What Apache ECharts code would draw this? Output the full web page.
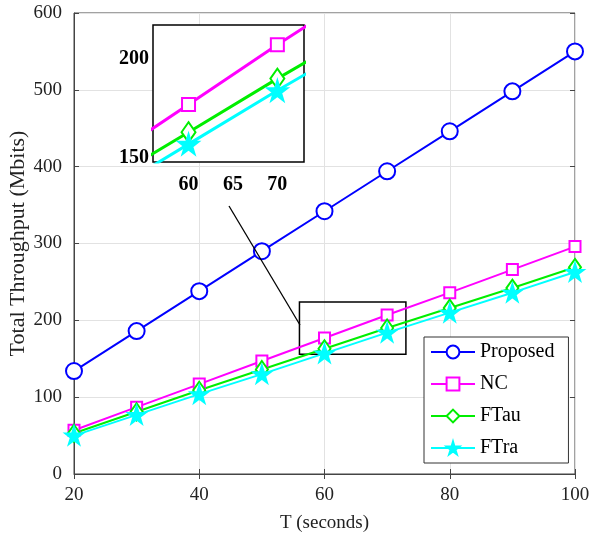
<!DOCTYPE html>
<html><head><meta charset="utf-8">
<script src="https://cdn.jsdelivr.net/npm/echarts@6/dist/echarts.min.js"></script>
<style>html,body{margin:0;padding:0;background:#fff}#c{width:593px;height:549px}</style>
</head><body><div id="c"></div>
<script>
const T = [20, 30, 40, 50, 60, 70, 80, 90, 100];
const proposed = [134, 186, 238, 290, 342, 394, 446, 498, 550];
const nc = [57, 87, 117, 147, 177, 207, 236, 266, 296];
const ftau = [53, 81, 109, 136, 163, 190, 216, 242, 269];
const ftra = [50, 77, 104, 130, 157, 184, 210, 236, 263];
const xTicks = [20, 40, 60, 80, 100];
const yTicks = [0, 100, 200, 300, 400, 500, 600];
const insetXTicks = [60, 65, 70];
const insetYTicks = [150, 200];
const zoomBox = {x0: 56, x1: 73, y0: 156, y1: 224};
const insetRange = {x0: 56, x1: 73, y0: 148, y1: 217};

const font = 'Liberation Serif';
const axisCol = '#444';
const pair = arr => T.map((t, i) => [t, arr[i]]);
const starPath = 'path://M50,0 L61,35 L98,35 L68,57 L79,91 L50,70 L21,91 L32,57 L2,35 L39,35 Z';
const defs = [
  {name: 'Proposed', data: proposed, color: '#0000ff', symbol: 'emptyCircle', size: 16, isize: 16},
  {name: 'NC', data: nc, color: '#ff00ff', symbol: 'emptyRect', size: 11, isize: 13},
  {name: 'FTau', data: ftau, color: '#00ee00', symbol: 'emptyDiamond', size: [12, 17], isize: [14, 20]},
  {name: 'FTra', data: ftra, color: '#00ffff', symbol: starPath, size: 17, isize: 20}
];
function mkSeries(d, xi, yi, inset) {
  return {
    name: d.name, type: 'line', xAxisIndex: xi, yAxisIndex: yi, data: pair(d.data),
    symbol: d.symbol, symbolSize: inset ? d.isize : d.size, showAllSymbol: true,
    lineStyle: {color: d.color, width: inset ? 3 : 2},
    itemStyle: {color: d.color, borderColor: d.color, borderWidth: 2},
    color: d.color, clip: true, animation: false, z: inset ? 10 : 3
  };
}
const series = [];
defs.forEach(d => series.push(mkSeries(d, 0, 0, false)));
defs.forEach(d => series.push(mkSeries(d, 2, 2, true)));
series[0].markArea = {
  silent: true,
  itemStyle: {color: 'rgba(0,0,0,0)', borderColor: '#000', borderWidth: 1.5},
  data: [[{coord: [zoomBox.x0, zoomBox.y0]}, {coord: [zoomBox.x1, zoomBox.y1]}]]
};

const chart = echarts.init(document.getElementById('c'));
chart.setOption({
  animation: false,
  textStyle: {fontFamily: font},
  grid: [
    {left: 74, top: 13, right: 18, bottom: 75, show: true, borderColor: axisCol, borderWidth: 1, containLabel: false, outerBoundsMode: 'none'},
    {left: 74, top: 13, right: 18, bottom: 75, show: false, containLabel: false, outerBoundsMode: 'none'},
    {left: 153, top: 25, width: 151, height: 137, show: true, backgroundColor: '#fff', borderColor: '#000', borderWidth: 1.5, z: 9, containLabel: false, outerBoundsMode: 'none'}
  ],
  legend: {
    data: defs.map(d => d.name), orient: 'vertical', left: 424, top: 337,
    width: 139, backgroundColor: '#fff', borderColor: '#333', borderWidth: 1,
    padding: [5, 14, 5, 6], itemWidth: 44, itemHeight: 16, itemGap: 12,
    textStyle: {fontFamily: font, fontSize: 20, color: '#000'}
  },
  xAxis: [
    {type: 'value', gridIndex: 0, min: 20, max: 100, interval: 20, name: 'T (seconds)', nameLocation: 'middle', nameGap: 40, nameMoveOverlap: false,
     nameTextStyle: {fontFamily: font, fontSize: 19, color: '#222'},
     axisLine: {lineStyle: {color: axisCol}}, axisTick: {inside: true, lineStyle: {color: axisCol}},
     axisLabel: {fontFamily: font, fontSize: 19, color: '#222', margin: 12},
     splitLine: {lineStyle: {color: '#e2e2e2'}}},
    {type: 'value', gridIndex: 1, position: 'top', min: 20, max: 100, interval: 20,
     axisLine: {show: false}, axisTick: {show: true, inside: true, lineStyle: {color: axisCol}}, axisLabel: {show: false}, splitLine: {show: false}},
    {type: 'value', gridIndex: 2, min: insetRange.x0, max: insetRange.x1,
     axisLine: {show: false}, axisTick: {inside: true, customValues: insetXTicks, lineStyle: {color: '#000'}},
     axisLabel: {customValues: insetXTicks, fontFamily: font, fontSize: 20, fontWeight: 'bold', color: '#000', margin: 13},
     splitLine: {show: true, lineStyle: {color: '#ddd'}}}
  ],
  yAxis: [
    {type: 'value', gridIndex: 0, min: 0, max: 600, interval: 100, name: 'Total Throughput (Mbits)', nameLocation: 'middle', nameGap: 45, nameMoveOverlap: false,
     nameTextStyle: {fontFamily: font, fontSize: 22, color: '#222'},
     axisLine: {show: true, lineStyle: {color: axisCol}}, axisTick: {show: true, inside: true, lineStyle: {color: axisCol}},
     axisLabel: {fontFamily: font, fontSize: 19, color: '#222', margin: 12},
     splitLine: {lineStyle: {color: '#e2e2e2'}}},
    {type: 'value', gridIndex: 1, position: 'right', min: 0, max: 600, interval: 100,
     axisLine: {show: false}, axisTick: {show: true, inside: true, lineStyle: {color: axisCol}}, axisLabel: {show: false}, splitLine: {show: false}},
    {type: 'value', gridIndex: 2, min: insetRange.y0, max: insetRange.y1,
     axisLine: {show: false}, axisTick: {show: true, inside: true, customValues: insetYTicks, lineStyle: {color: '#000'}},
     axisLabel: {customValues: insetYTicks, fontFamily: font, fontSize: 20, fontWeight: 'bold', color: '#000', margin: 4},
     splitLine: {show: true, lineStyle: {color: '#ddd'}}}
  ],
  graphic: [{type: 'line', shape: {x1: 229, y1: 206, x2: 300, y2: 325}, style: {stroke: '#000', lineWidth: 1.3}, z: 20}],
  series: series
});
</script></body></html>
